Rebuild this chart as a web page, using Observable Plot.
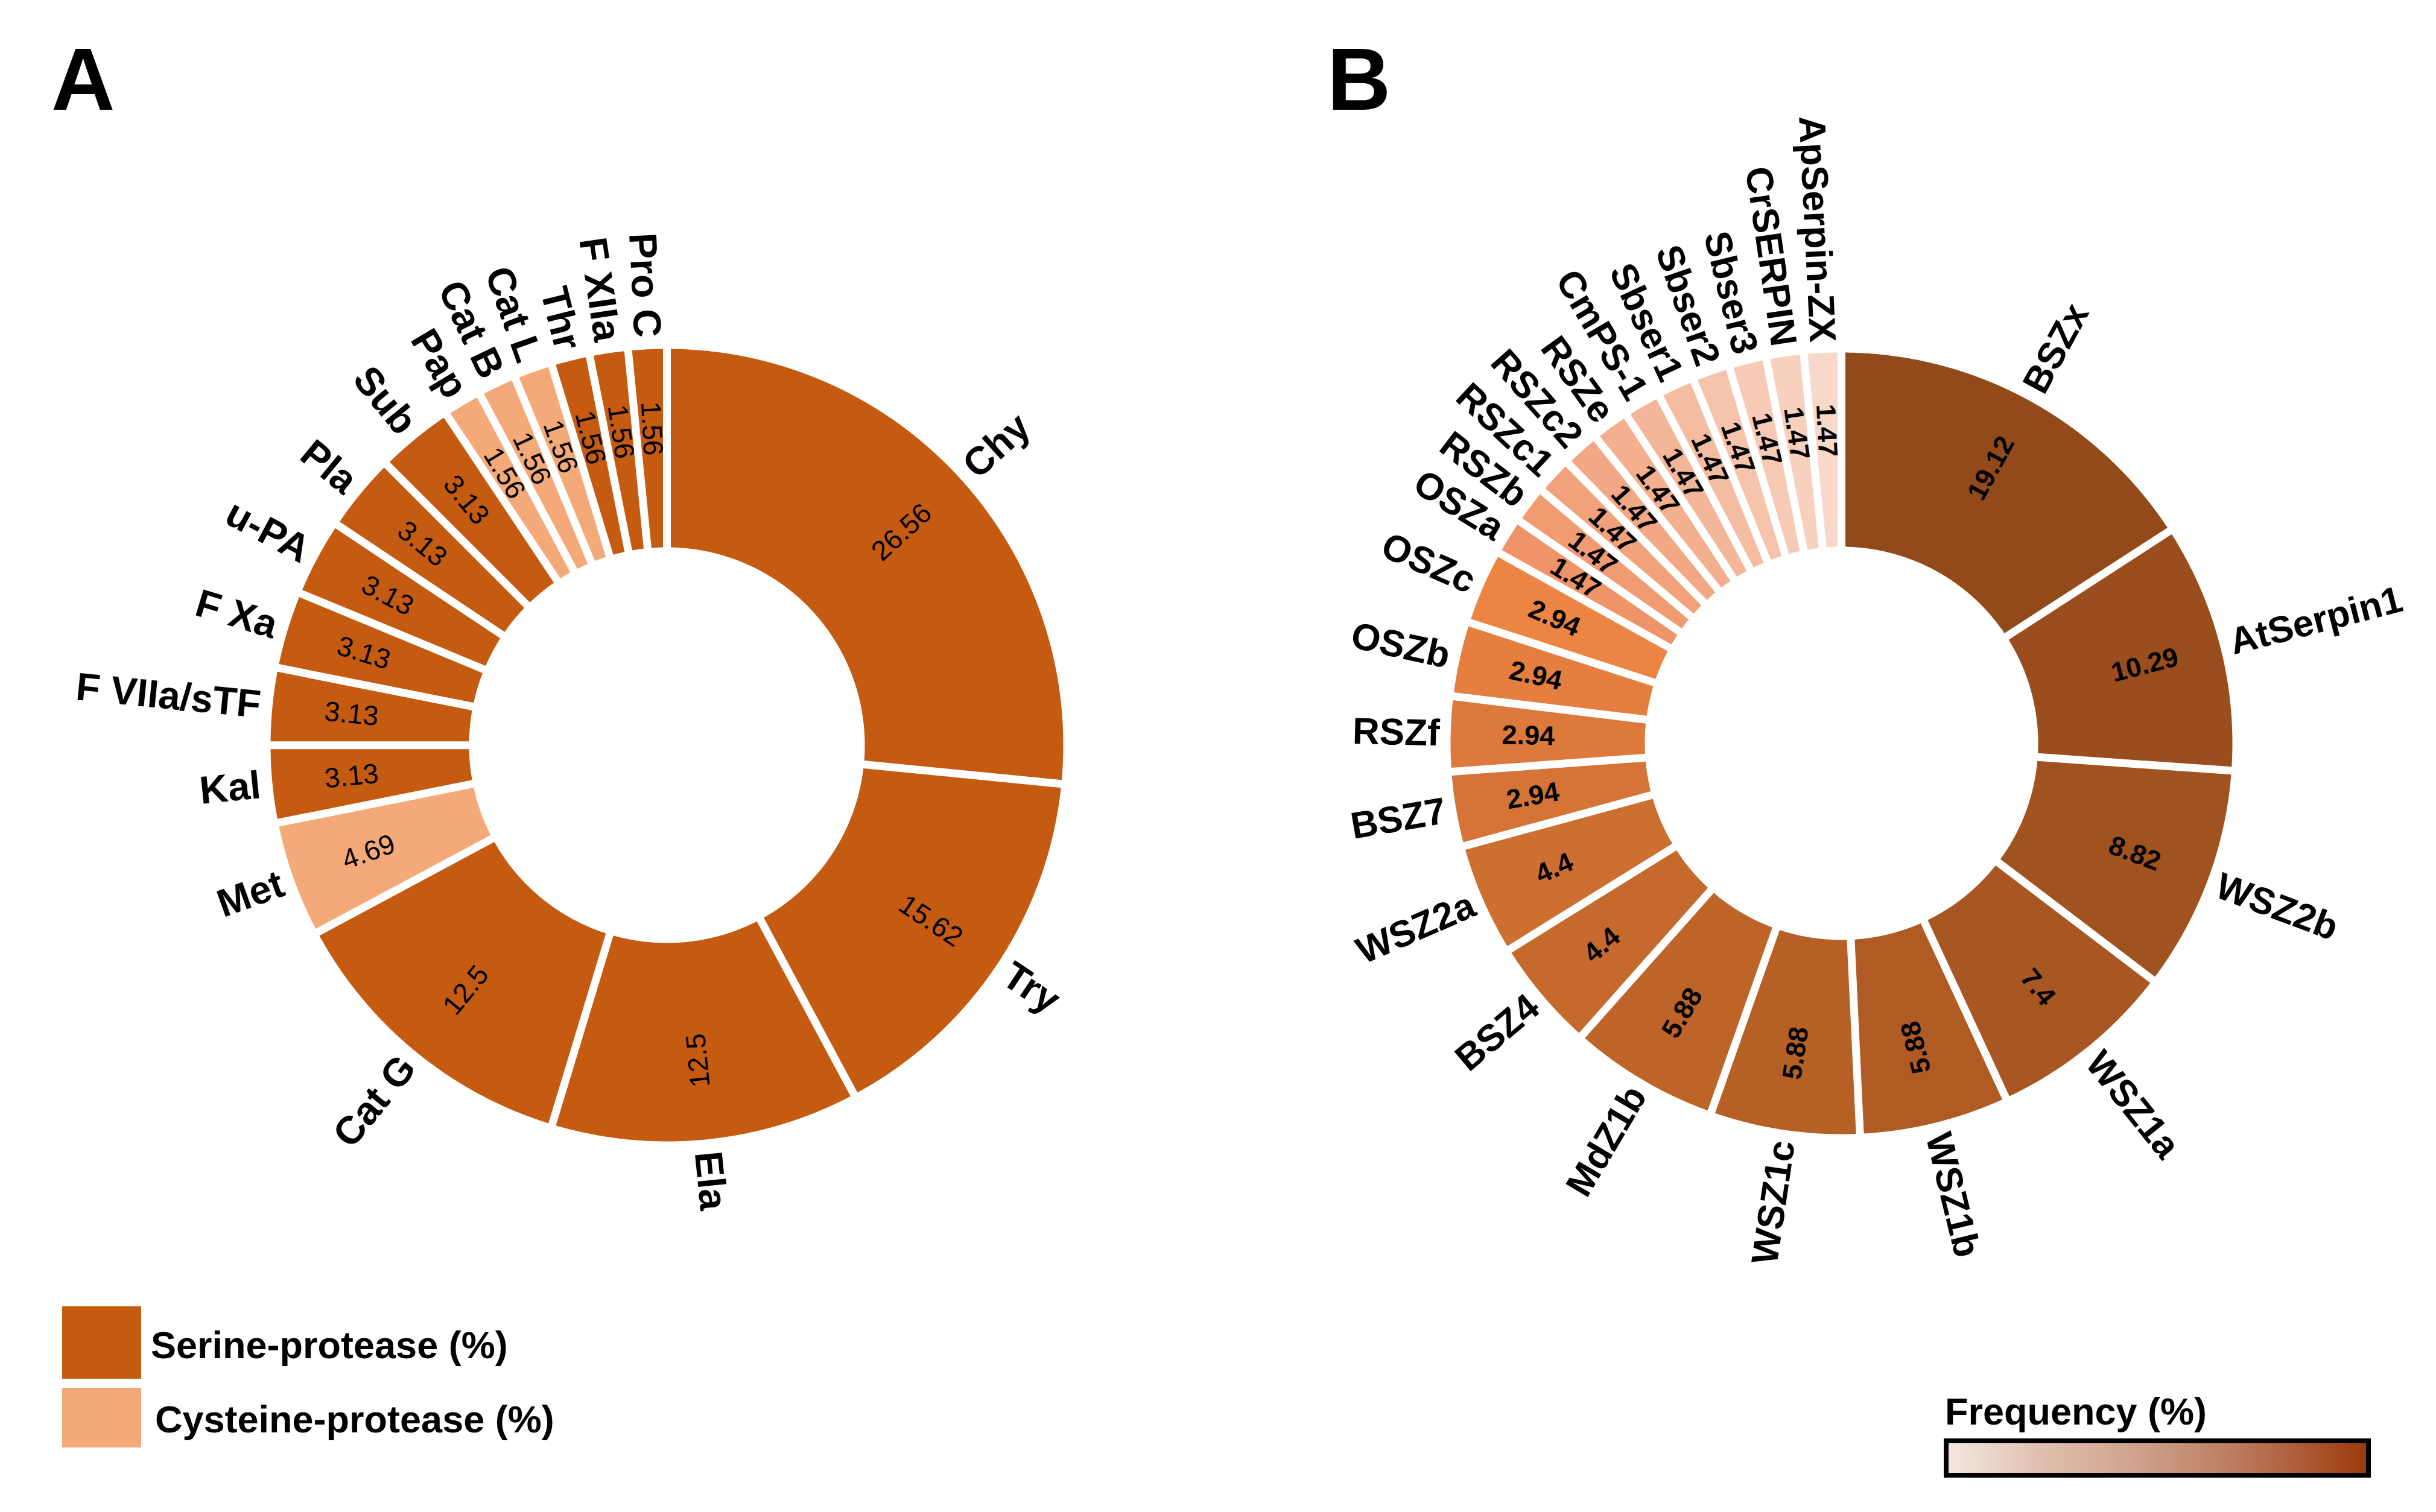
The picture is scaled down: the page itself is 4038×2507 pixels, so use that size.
<!DOCTYPE html>
<html>
<head>
<meta charset="utf-8">
<script src="https://cdn.jsdelivr.net/npm/d3@7"></script>
<script src="https://cdn.jsdelivr.net/npm/@observablehq/plot@0.6"></script>
<style>
  html, body { margin: 0; padding: 0; background: #fff; }
  #fig { position: relative; width: 4038px; height: 2507px; overflow: hidden; background: #fff;
         font-family: "Liberation Sans", Arial, Helvetica, sans-serif; color: #000; }
  .panel { position: absolute; top: 0; }
  .abs { position: absolute; white-space: nowrap; font-weight: bold; }
  .letter { font-size: 146px; line-height: 146px; }
  .leg { font-size: 63px; line-height: 63px; }
  .sw { position: absolute; }
</style>
</head>
<body>
<div id="fig">
  <div id="panelA" class="panel" style="left:0px"></div>
  <div id="panelB" class="panel" style="left:2019px"></div>
</div>
<script>
// ---------------- data ----------------
const namesA = ["Chy","Try","Ela","Cat G","Met","Kal","F VIIa/sTF","F Xa","u-PA","Pla","Sub","Pap","Cat B","Cat L","Thr","F XIIa","Pro C"];
const valuesA = [26.56,15.62,12.5,12.5,4.69,3.13,3.13,3.13,3.13,3.13,3.13,1.56,1.56,1.56,1.56,1.56,1.56];
const typesA = ["Serine-protease (%)","Serine-protease (%)","Serine-protease (%)","Serine-protease (%)","Cysteine-protease (%)",
  "Serine-protease (%)","Serine-protease (%)","Serine-protease (%)","Serine-protease (%)","Serine-protease (%)","Serine-protease (%)",
  "Cysteine-protease (%)","Cysteine-protease (%)","Cysteine-protease (%)",
  "Serine-protease (%)","Serine-protease (%)","Serine-protease (%)"];
const legendA = ["Serine-protease (%)","Cysteine-protease (%)"];

const namesB = ["BSZx","AtSerpin1","WSZ2b","WSZ1a","WSZ1b","WSZ1c","MdZ1b","BSZ4","WSZ2a","BSZ7","RSZf","OSZb","OSZc",
  "OSZa","RSZb","RSZc1","RSZc2","RSZe","CmPS-1","Sbser1","Sbser2","Sbser3","CrSERPIN","ApSerpin-ZX"];
// printed frequency labels (%)
const valuesB = [19.12,10.29,8.82,7.4,5.88,5.88,5.88,4.4,4.4,2.94,2.94,2.94,2.94,
  1.47,1.47,1.47,1.47,1.47,1.47,1.47,1.47,1.47,1.47,1.47];
// slice sizes as actually drawn in the source figure (its BSZx and AtSerpin1 wedges are drawn smaller than their labels)
const sliceB = [15.15,9.8,8.82,7.4,5.88,5.88,5.88,4.4,4.4,2.94,2.94,2.94,2.94,
  1.47,1.47,1.47,1.47,1.47,1.47,1.47,1.47,1.47,1.47,1.47];
const legendBTitle = "Frequency (%)";

// ---------------- styles / layout ----------------
const FONT = '"Liberation Sans", Arial, Helvetica, sans-serif';
const PW = 2019, PH = 2507;
const geomA = {cx: 1105, cy: 1235, R: 657, r: 328, gap: 6.5, labelOff: 20, labelSize: 65, valueSize: 46, valueWeight: "normal", flip: 160};
const geomB = {cx: 3052 - PW, cy: 1232, R: 648, r: 326, gap: 6.5, labelOff: 18, labelSize: 62, valueSize: 45, valueWeight: "bold", flip: 155};
const colorsA = ["#C55A11", "#F4AA78"];
const rampB = {domain: [0, 6, 12, 13, 23], range: ["#934A1B", "#BE6428", "#EC8443", "#EF9468", "#F8D8C8"]};

function build(names, sizes, labelsTxt, extra, g) {
  const arcs = d3.pie().sort(null).value(d => d)(sizes);
  const pt = (rho, a) => [g.cx + rho * Math.sin(a), g.cy - rho * Math.cos(a)];
  const polys = [], labels = [], vals = [];
  arcs.forEach((arc, i) => {
    const a0 = arc.startAngle, a1 = arc.endAngle;
    const oA = Math.asin(g.gap / g.R), iA = Math.asin(g.gap / g.r);
    const os = a0 + oA, oe = a1 - oA, is = a0 + iA, ie = a1 - iA;
    const n = Math.max(4, Math.ceil((a1 - a0) / 0.004));
    for (let k = 0; k <= n; k++) { const [x, y] = pt(g.R, os + (oe - os) * k / n); polys.push({x, y, i, name: names[i], type: extra ? extra[i] : null}); }
    for (let k = 0; k <= n; k++) { const [x, y] = pt(g.r, ie - (ie - is) * k / n); polys.push({x, y, i, name: names[i], type: extra ? extra[i] : null}); }
    const mid = (a0 + a1) / 2, deg = mid * 180 / Math.PI;
    const right = deg < 180;
    const [lx, ly] = pt(g.R + g.labelOff, mid);
    labels.push({x: lx, y: ly, name: names[i], right, rot: right ? deg - 90 : deg + 90});
    const [vx, vy] = pt(g.r + 0.6 * (g.R - g.r), mid);
    const outward = deg < g.flip;
    vals.push({x: vx, y: vy, label: String(labelsTxt[i]), rot: outward ? deg - 90 : deg + 90});
  });
  return {polys, labels, vals};
}

function panel(data, g, colorOpt, fillKey) {
  return Plot.plot({
    width: PW, height: PH, margin: 0,
    style: {fontFamily: FONT, background: "transparent", overflow: "visible"},
    x: {domain: [0, PW], range: [0, PW], axis: null},
    y: {domain: [0, PH], range: [0, PH], axis: null},
    color: colorOpt,
    marks: [
      Plot.line(data.polys, {x: "x", y: "y", z: "name", fill: fillKey, stroke: "none", curve: "linear-closed"}),
      Plot.text(data.labels.filter(d => d.right), {x: "x", y: "y", text: "name", rotate: "rot", textAnchor: "start",
        fontSize: g.labelSize, fontWeight: "bold", fill: "#000"}),
      Plot.text(data.labels.filter(d => !d.right), {x: "x", y: "y", text: "name", rotate: "rot", textAnchor: "end",
        fontSize: g.labelSize, fontWeight: "bold", fill: "#000"}),
      Plot.text(data.vals, {x: "x", y: "y", text: "label", rotate: "rot", textAnchor: "middle",
        fontSize: g.valueSize, fontWeight: g.valueWeight, fill: "#000"})
    ]
  });
}

const dA = build(namesA, valuesA, valuesA, typesA, geomA);
const dB = build(namesB, sliceB, valuesB, null, geomB);

document.getElementById("panelA").appendChild(
  panel(dA, geomA, {domain: legendA, range: colorsA}, "type"));
document.getElementById("panelB").appendChild(
  panel(dB, geomB, {type: "linear", domain: rampB.domain, range: rampB.range}, "i"));

// ---------------- HTML overlays: panel letters & legends ----------------
const fig = document.getElementById("fig");
function addText(txt, cls, left, baseline, size) {
  const el = document.createElement("div");
  el.className = "abs " + cls;
  el.textContent = txt;
  el.style.left = left + "px";
  el.style.top = (baseline - size * 0.8465) + "px";
  fig.appendChild(el);
  return el;
}
addText("A", "letter", 85, 183, 146);
addText("B", "letter", 2200, 183, 146);

function addBox(left, top, w, h, css) {
  const el = document.createElement("div");
  el.className = "sw";
  el.style.cssText += `left:${left}px;top:${top}px;width:${w}px;height:${h}px;` + css;
  fig.appendChild(el);
}
addBox(103, 2166, 131, 120, `background:${colorsA[0]};`);
addBox(103, 2301, 131, 99, `background:${colorsA[1]};`);
addText(legendA[0], "leg", 250, 2252, 63);
addText(legendA[1], "leg", 257, 2375, 63);

addText(legendBTitle, "leg", 3224, 2362, 63);
addBox(3222, 2385, 708, 65, "box-sizing:border-box;border:8px solid #000;" +
  "background:linear-gradient(to right,#F4E7E0 0%,#E0C0AF 22%,#CFA28C 45%,#BE8266 65%,#AD5B37 85%,#9C3A0C 100%);");
</script>
</body>
</html>
